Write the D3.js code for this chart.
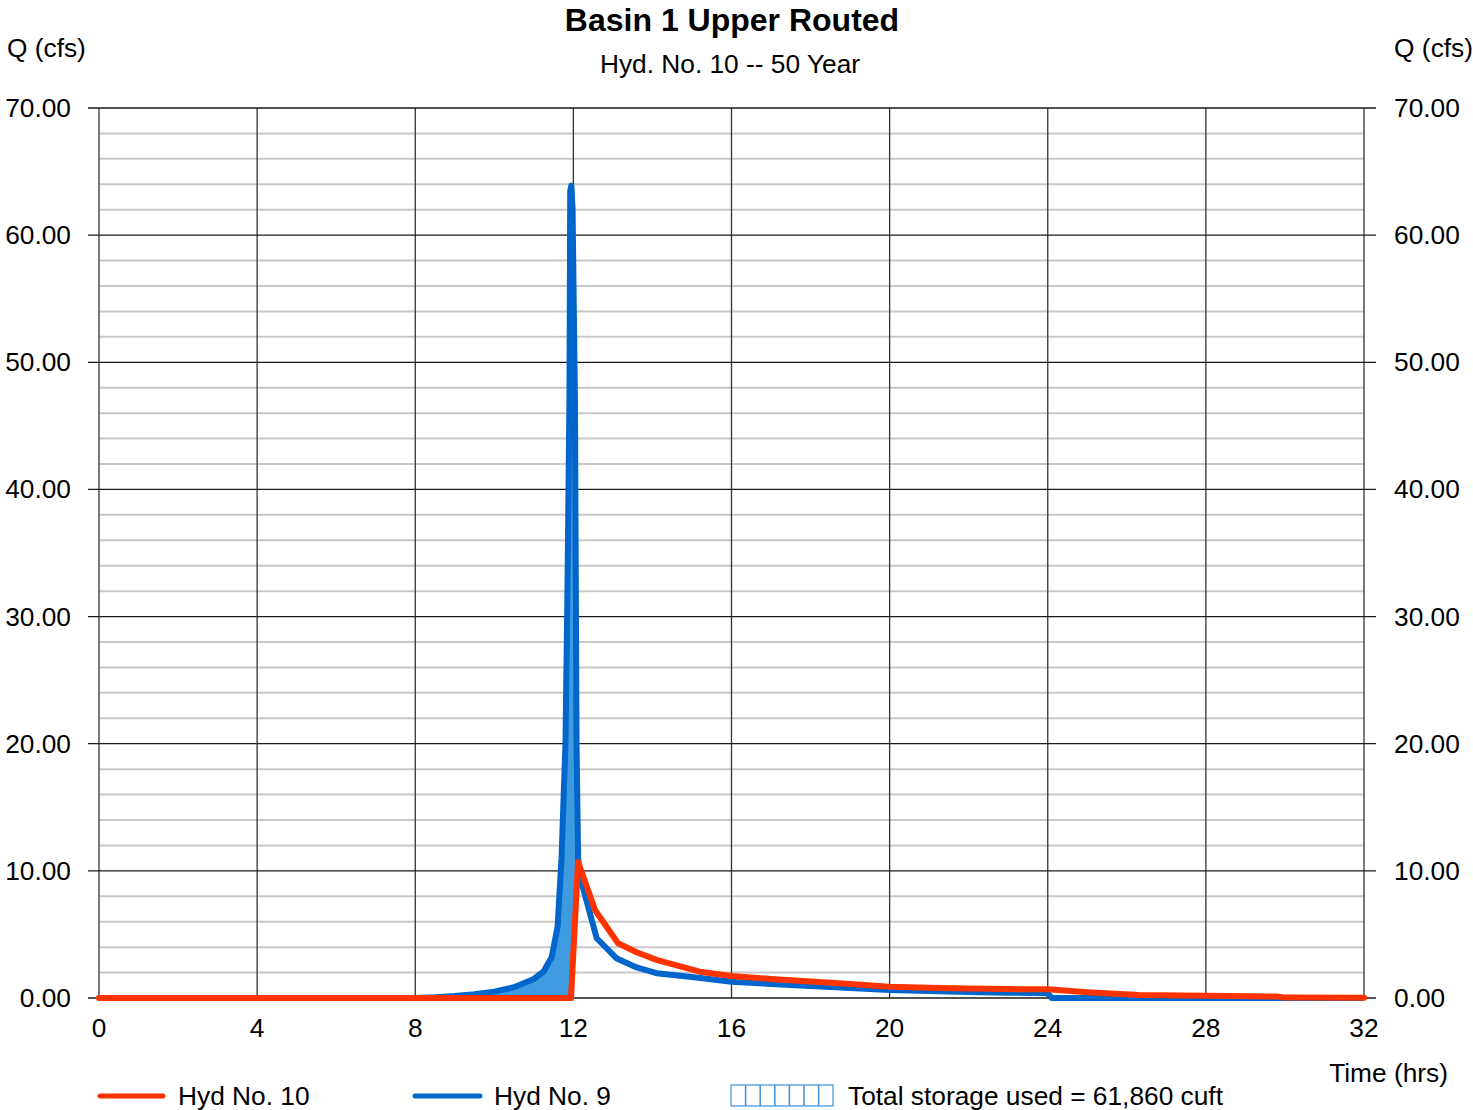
<!doctype html>
<html>
<head>
  <meta charset="utf-8">
  <script src="https://d3js.org/d3.v7.min.js"></script>
  <style>
    body { margin: 0; background: #fff; }
    text { font-family: "Liberation Sans", Arial, sans-serif; fill: #000; }
  </style>
</head>
<body>
  <script>
    var xTicks = [0, 4, 8, 12, 16, 20, 24, 28, 32];
    var yTicks = [0, 10, 20, 30, 40, 50, 60, 70];
    var yMinor = d3.range(0, 70, 2);

    // Hyd No. 9 (inflow)
    var inflowTime = [0, 8, 8.5, 9, 9.5, 10, 10.5, 11, 11.25, 11.45, 11.6, 11.7, 11.8, 11.85, 11.9, 11.92,
                      11.95, 11.98, 12.04, 12.08, 12.12, 12.17, 12.59, 13.1, 13.6, 14.1, 15, 16, 17, 18, 19, 20,
                      21, 22, 23, 24, 24.1, 26, 28, 30, 32];
    var inflowQ = [0, 0, 0.05, 0.15, 0.3, 0.5, 0.85, 1.5, 2.1, 3.2, 5.6, 11, 20, 32, 47, 63.5,
                   63.9, 62, 47, 20, 11, 9.5, 4.7, 3.1, 2.4, 1.95, 1.65, 1.28, 1.1, 0.95, 0.78, 0.63,
                   0.55, 0.48, 0.42, 0.37, 0, 0, 0, 0, 0];

    // Hyd No. 10 (routed outflow)
    var outflowTime = [0, 11.94, 12.12, 12.55, 13.13, 13.6, 14.1, 15.2, 16, 17, 18, 19, 20, 21, 22, 23, 24,
                       25, 26.3, 28, 29.8, 30, 32];
    var outflowQ = [0, 0, 10.7, 6.9, 4.3, 3.6, 3.0, 2.07, 1.73, 1.5, 1.3, 1.1, 0.89, 0.8, 0.74, 0.7, 0.68,
                    0.45, 0.24, 0.17, 0.12, 0.03, 0.02];

    var crossTime = 12.12; // storage fill ends where the curves cross

    var width = 1473, height = 1110;
    var plotLeft = 99, plotRight = 1364, plotTop = 108, plotBottom = 998;
    var fs = 26.3;

    var x = d3.scaleLinear().domain([0, 32]).range([plotLeft, plotRight]);
    var y = d3.scaleLinear().domain([0, 70]).range([plotBottom, plotTop]);

    var svg = d3.select("body").append("svg")
      .attr("width", width)
      .attr("height", height);

    // minor horizontal grid
    svg.append("g").selectAll("line")
      .data(yMinor.filter(function(d) { return d % 10 !== 0; }))
      .enter().append("line")
      .attr("x1", plotLeft).attr("x2", plotRight)
      .attr("y1", function(d) { return y(d); })
      .attr("y2", function(d) { return y(d); })
      .attr("stroke", "#c8c8c8")
      .attr("stroke-width", 2);

    // vertical grid
    svg.append("g").selectAll("line")
      .data(xTicks)
      .enter().append("line")
      .attr("x1", function(d) { return x(d); })
      .attr("x2", function(d) { return x(d); })
      .attr("y1", plotTop).attr("y2", plotBottom)
      .attr("stroke", "#333")
      .attr("stroke-width", 1.3);

    // major horizontal grid + tick marks both sides
    svg.append("g").selectAll("line")
      .data(yTicks)
      .enter().append("line")
      .attr("x1", plotLeft - 11).attr("x2", plotRight + 12)
      .attr("y1", function(d) { return y(d); })
      .attr("y2", function(d) { return y(d); })
      .attr("stroke", "#1a1a1a")
      .attr("stroke-width", 1.3);

    // storage fill between the two hydrographs
    var fillPts = [];
    inflowTime.forEach(function(t, i) {
      if (t <= crossTime) fillPts.push([x(t), y(inflowQ[i])]);
    });
    for (var i = outflowTime.length - 1; i >= 0; i--) {
      if (outflowTime[i] <= crossTime) fillPts.push([x(outflowTime[i]), y(outflowQ[i])]);
    }
    svg.append("path")
      .attr("d", d3.line()(fillPts) + "Z")
      .attr("fill", "#3f9be0");

    var line = d3.line()
      .x(function(d) { return x(d[0]); })
      .y(function(d) { return y(d[1]); });

    svg.append("path")
      .datum(d3.zip(inflowTime, inflowQ))
      .attr("d", line)
      .attr("fill", "none")
      .attr("stroke", "#0066cc")
      .attr("stroke-width", 6)
      .attr("stroke-linejoin", "round");

    svg.append("path")
      .datum(d3.zip(outflowTime, outflowQ))
      .attr("d", line)
      .attr("fill", "none")
      .attr("stroke", "#ff3300")
      .attr("stroke-width", 6)
      .attr("stroke-linejoin", "round")
      .attr("stroke-linecap", "round");

    // tick labels
    svg.append("g").selectAll("text")
      .data(yTicks)
      .enter().append("text")
      .attr("x", 71).attr("y", function(d) { return y(d) + 9; })
      .attr("text-anchor", "end")
      .attr("font-size", fs)
      .text(function(d) { return d3.format(".2f")(d); });

    svg.append("g").selectAll("text")
      .data(yTicks)
      .enter().append("text")
      .attr("x", 1394).attr("y", function(d) { return y(d) + 9; })
      .attr("text-anchor", "start")
      .attr("font-size", fs)
      .text(function(d) { return d3.format(".2f")(d); });

    svg.append("g").selectAll("text")
      .data(xTicks)
      .enter().append("text")
      .attr("x", function(d) { return x(d); })
      .attr("y", 1037)
      .attr("text-anchor", "middle")
      .attr("font-size", fs)
      .text(function(d) { return d; });

    // titles
    svg.append("text").attr("x", 732).attr("y", 31).attr("text-anchor", "middle")
      .attr("font-size", 32).attr("font-weight", "bold").text("Basin 1 Upper Routed");
    svg.append("text").attr("x", 730).attr("y", 73).attr("text-anchor", "middle")
      .attr("font-size", fs).text("Hyd. No. 10 -- 50 Year");
    svg.append("text").attr("x", 7).attr("y", 57).attr("font-size", fs).text("Q (cfs)");
    svg.append("text").attr("x", 1473).attr("y", 57).attr("text-anchor", "end")
      .attr("font-size", fs).text("Q (cfs)");
    svg.append("text").attr("x", 1448).attr("y", 1082).attr("text-anchor", "end")
      .attr("font-size", fs).text("Time (hrs)");

    // legend
    var lg = svg.append("g");
    lg.append("line").attr("x1", 100).attr("x2", 163).attr("y1", 1096).attr("y2", 1096)
      .attr("stroke", "#ff3300").attr("stroke-width", 5).attr("stroke-linecap", "round");
    lg.append("text").attr("x", 178).attr("y", 1105).attr("font-size", fs).text("Hyd No. 10");
    lg.append("line").attr("x1", 415).attr("x2", 480).attr("y1", 1096).attr("y2", 1096)
      .attr("stroke", "#0066cc").attr("stroke-width", 5).attr("stroke-linecap", "round");
    lg.append("text").attr("x", 494).attr("y", 1105).attr("font-size", fs).text("Hyd No. 9");
    lg.append("rect").attr("x", 731).attr("y", 1085).attr("width", 102).attr("height", 21)
      .attr("fill", "none").attr("stroke", "#3d8fdc").attr("stroke-width", 1.2);
    lg.selectAll(".hatch")
      .data(d3.range(1, 7))
      .enter().append("line")
      .attr("x1", function(d) { return 731 + d * 14.6; })
      .attr("x2", function(d) { return 731 + d * 14.6; })
      .attr("y1", 1085).attr("y2", 1106)
      .attr("stroke", "#3d8fdc").attr("stroke-width", 1.5);
    lg.append("text").attr("x", 848).attr("y", 1105).attr("font-size", fs)
      .text("Total storage used = 61,860 cuft");
  </script>
</body>
</html>
